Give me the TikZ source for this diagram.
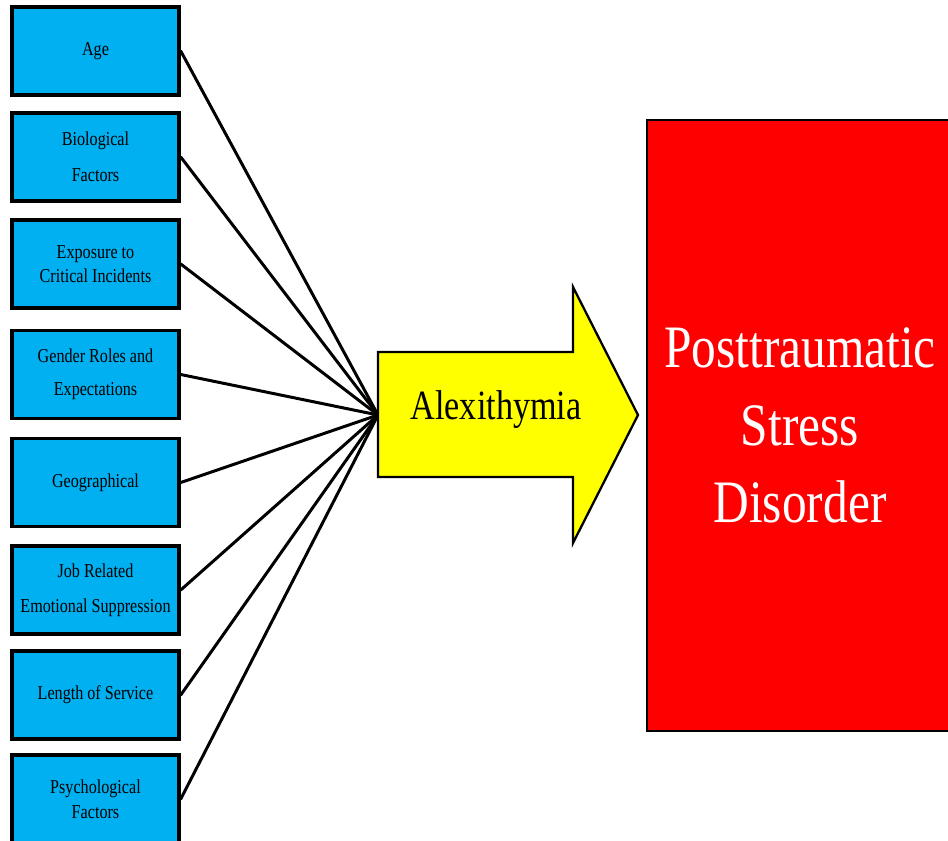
\documentclass[tikz,border=0pt]{standalone}
\usepackage{fontspec}
\setmainfont{Liberation Serif}[FakeStretch=0.82]
\definecolor{factorblue}{RGB}{0,176,240}
\definecolor{alexyellow}{RGB}{255,255,0}
\definecolor{ptsdred}{RGB}{255,0,0}

\begin{document}
\begin{tikzpicture}[
      x=0.02cm, y=-0.02cm,
      factor/.style={
        draw=black,
        line width=2pt,
        fill=factorblue,
        minimum width=3.34cm,
        minimum height=1.76cm,
        align=center,
        inner sep=2pt,
        font=\fontsize{11.2}{14}\selectfont
      },
      link/.style={
        line width=1.7pt,
        line cap=round
      },
    ]

    \clip (0,0) rectangle (948,840);

    \node [factor] (age) at (95.5,51) {Age};
    \node [factor] (bio) at (95.5,157) {Biological\\[6.5pt]Factors};
    \node [factor] (exposure) at (95.5,264) {Exposure to\\Critical Incidents};
    \node [factor] (gender) at (95.5,374.5) {Gender Roles and\\[5pt]Expectations};
    \node [factor] (geo) at (95.5,482.5) {Geographical};
    \node [factor] (job) at (95.5,590) {Job Related\\[6pt]Emotional Suppression};
    \node [factor] (service) at (95.5,695) {Length of Service};
    \node [factor] (psych) at (95.5,799) {Psychological\\Factors};

    \coordinate (hub) at (378,415);

    \draw [link] (age.east) -- (hub);
    \draw [link] (bio.east) -- (hub);
    \draw [link] (exposure.east) -- (hub);
    \draw [link] (gender.east) -- (hub);
    \draw [link] (geo.east) -- (hub);
    \draw [link] (job.east) -- (hub);
    \draw [link] (service.east) -- (hub);
    \draw [link] (psych.east) -- (hub);

    % big arrow
    \draw [fill=alexyellow, line width=1.3pt, line join=miter]
      (378,352) -- (573,352) -- (573,287) -- (638,415)
      -- (573,543) -- (573,477) -- (378,477) -- cycle;
    \node [font=\fontsize{23.7}{28}\selectfont] (alex) at (496,410) {Alexithymia};

    \node [draw=black, line width=1.3pt, fill=ptsdred, text=white,
      minimum width=6.12cm, minimum height=12.22cm, align=center,
      font=\fontsize{34.3}{44}\selectfont] (ptsd) at (800,425.5)
      {Posttraumatic\\Stress\\Disorder};
  \end{tikzpicture}
\end{document}
